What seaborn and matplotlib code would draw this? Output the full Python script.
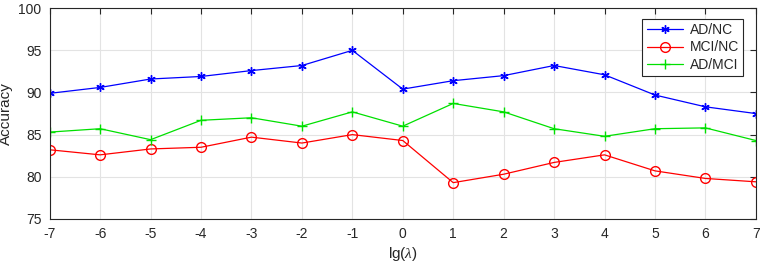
import pandas as pd
import seaborn as sns
import matplotlib.pyplot as plt

lg_lambda = [-7, -6, -5, -4, -3, -2, -1, 0, 1, 2, 3, 4, 5, 6, 7]
ad_nc = [89.9, 90.6, 91.6, 91.9, 92.6, 93.2, 95.0, 90.4, 91.4, 92.0, 93.2, 92.1, 89.7, 88.3, 87.5]
mci_nc = [83.2, 82.6, 83.3, 83.5, 84.7, 84.0, 85.0, 84.3, 79.3, 80.3, 81.7, 82.6, 80.7, 79.8, 79.4]
ad_mci = [85.3, 85.7, 84.4, 86.7, 87.0, 86.0, 87.7, 86.0, 88.7, 87.7, 85.7, 84.8, 85.7, 85.8, 84.3]
y_ticks = [75, 80, 85, 90, 95, 100]

sns.set_style("whitegrid")
plt.rcParams['font.family'] = ['Liberation Sans', 'DejaVu Sans']
plt.rcParams['axes.unicode_minus'] = False
plt.rcParams['mathtext.fontset'] = 'custom'
plt.rcParams['mathtext.it'] = 'Liberation Serif:italic'

fig = plt.figure(figsize=(7.65, 2.65), dpi=100)
ax = fig.add_axes([0.065, 0.174, 0.923, 0.795])

series = [
    ('AD/NC', ad_nc, '#0000ff', (6, 2, 0), 6),
    ('MCI/NC', mci_nc, '#ff0000', 'o', 7),
    ('AD/MCI', ad_mci, '#00e000', '+', 7),
]
for name, vals, col, mk, ms in series:
    df = pd.DataFrame({'x': lg_lambda, 'y': vals})
    sns.lineplot(data=df, x='x', y='y', ax=ax, color=col, marker=mk, markersize=ms,
                 markerfacecolor='none', markeredgecolor=col, markeredgewidth=1.0,
                 linewidth=0.9, label=name)

ax.set_xlim(-7, 7)
ax.set_ylim(75, 100)
ax.set_xticks(lg_lambda)
ax.set_yticks(y_ticks)
ax.tick_params(labelsize=10, direction='in', length=4, width=0.8, top=True, right=True,
               colors='#262626', pad=6)
ax.grid(True, color='#e3e3e3', linewidth=0.8)
for s in ax.spines.values():
    s.set_color('#262626')
    s.set_linewidth(0.8)

ax.set_xlabel(r'lg($\lambda$)', fontsize=11, labelpad=3)
ax.set_ylabel('Accuracy', fontsize=11, labelpad=4)

leg = ax.legend(loc='upper right', bbox_to_anchor=(0.982, 0.95), fontsize=10,
                frameon=True, fancybox=False, framealpha=1, edgecolor='#262626',
                handlelength=2.6, borderpad=0.3, labelspacing=0.25, handletextpad=0.5,
                borderaxespad=0)
leg.get_frame().set_linewidth(0.8)

plt.savefig('out.png', dpi=100)
plt.close()
